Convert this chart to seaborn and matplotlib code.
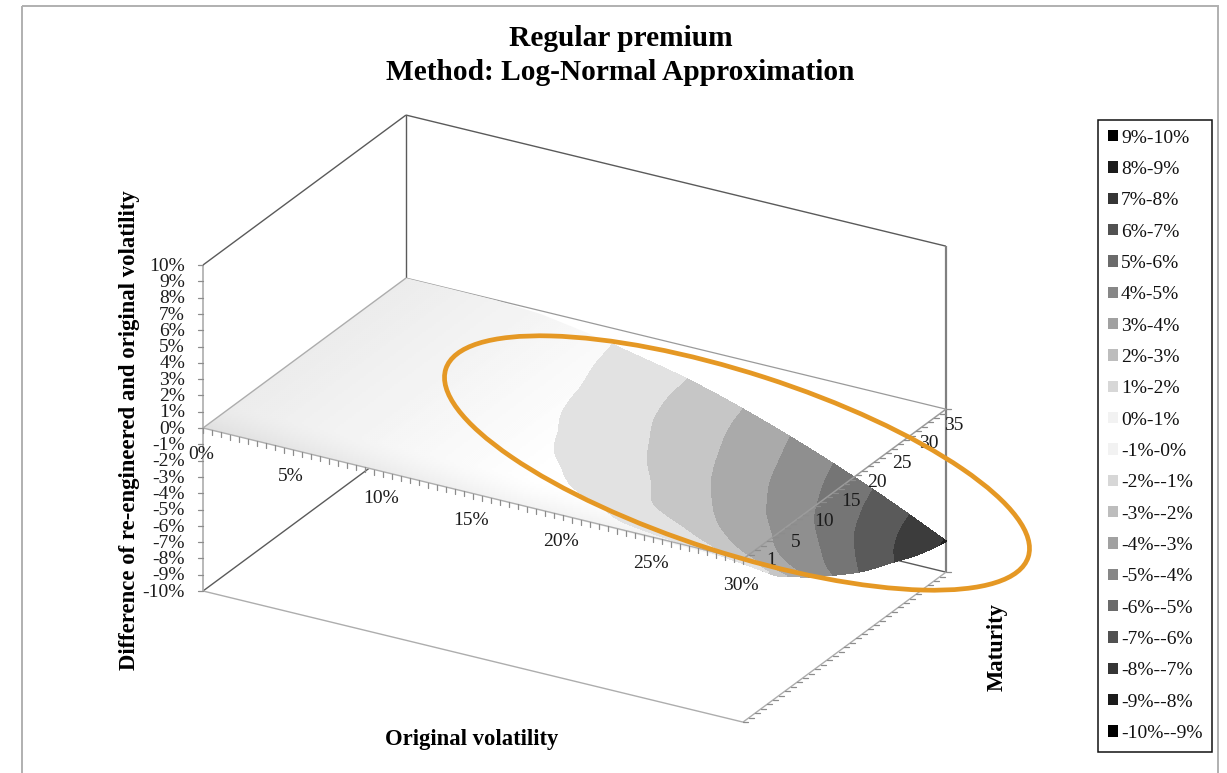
import numpy as np
import matplotlib
matplotlib.use("Agg")
import matplotlib.pyplot as plt
from matplotlib.patches import Ellipse, Patch, Polygon, Rectangle
from matplotlib.tri import Triangulation, UniformTriRefiner
import seaborn as sns

# ---- data ----
vol = np.array([0, 2.5, 5, 7.5, 10, 12.5, 15, 17.5, 20, 22.5, 25, 27.5, 30])
maturity = np.array([1, 3, 5, 7.5, 10, 15, 20, 25, 30, 35])
z_m1 = [0, 0, 0, 0, 0, -.01, -.02, -.04, -.06, -.08, -.10, -.14, -.20]
z_m3 = [0, 0, 0, -.01, -.03, -.08, -.15, -.25, -.40, -.50, -.60, -.72, -.85]
z_m5 = [0, 0, 0, -.02, -.06, -.15, -.30, -.50, -.75, -1.02, -1.30, -1.55, -1.85]
z_m7 = [0, 0, 0, -.03, -.10, -.24, -.45, -.75, -1.05, -1.45, -1.85, -2.30, -2.80]
z_m10 = [0, 0, -.01, -.04, -.15, -.35, -.60, -1.05, -1.50, -1.88, -2.40, -3.05, -3.50]
z_m15 = [0, 0, -.01, -.06, -.24, -.58, -1.02, -1.45, -1.95, -2.62, -3.35, -4.10, -4.80]
z_m20 = [0, 0, -.01, -.08, -.32, -.82, -1.25, -1.80, -2.45, -3.20, -4.00, -4.83, -5.95]
z_m25 = [0, 0, -.01, -.12, -.45, -.95, -1.55, -2.15, -2.85, -3.70, -4.60, -5.70, -6.80]
z_m30 = [0, 0, -.01, -.15, -.55, -1.12, -1.75, -2.45, -3.20, -4.10, -5.15, -6.35, -7.60]
z_m35 = [0, 0, -.02, -.20, -.65, -1.25, -1.85, -2.60, -3.50, -4.50, -5.60, -6.80, -8.10]
z_rows = [z_m1, z_m3, z_m5, z_m7, z_m10, z_m15, z_m20, z_m25, z_m30, z_m35]

title_lines = ["Regular premium", "Method: Log-Normal Approximation"]
vol_labels = ["0%", "5%", "10%", "15%", "20%", "25%", "30%"]
vol_label_at = [0, 5, 10, 15, 20, 25, 30]
mat_labels = ["1", "5", "10", "15", "20", "25", "30", "35"]
mat_label_at = [1.8, 5.9, 10.7, 15.2, 19.6, 23.8, 28.3, 32.5]
z_ticks = list(range(-10, 11))
legend_labels = ["9%-10%", "8%-9%", "7%-8%", "6%-7%", "5%-6%", "4%-5%", "3%-4%", "2%-3%", "1%-2%", "0%-1%",
                 "-1%-0%", "-2%--1%", "-3%--2%", "-4%--3%", "-5%--4%", "-6%--5%", "-7%--6%", "-8%--7%", "-9%--8%", "-10%--9%"]
surface_levels = [-9, -8, -7, -6, -5, -4, -3, -2, -1]
surface_shades = ["#202020", "#3c3c3c", "#5a5a5a", "#757575", "#8f8f8f", "#aaaaaa", "#c6c6c6", "#e2e2e2"]

# ---- style ----
sns.set_theme(style="white")
SERIF = ["Liberation Serif", "DejaVu Serif"]
plt.rcParams["font.family"] = SERIF
half = sns.blend_palette(["#f2f2f2", "#000000"], n_colors=10)
legend_colors = list(half[::-1]) + list(half)

W, H = 1227, 773
fig = plt.figure(figsize=(W / 100, H / 100), dpi=100)
ax = fig.add_axes([0, 0, 1, 1])
ax.set_axis_off()


def project(v, m, z):
    v, m, z = np.asarray(v, float), np.asarray(m, float), np.asarray(z, float)
    return 203 + 18 * v + 5.97 * (m - 1), 428 + 4.37 * v - 4.41 * (m - 1) - 16.3 * z


def edge(a, b, color, lw, zorder):
    xa, ya = project(*a)
    xb, yb = project(*b)
    ax.plot([xa, xb], [ya, yb], color=color, lw=lw, zorder=zorder, solid_capstyle="butt")


DARK, GREY = "#5a5a5a", "#adadad"
TICK = "#8c8c8c"
LABEL = "#1c1c1c"
# chart frame
ax.add_patch(Rectangle((22, 6), 1196, 800, fill=False, ec="#b0b0b0", lw=1.4, zorder=0))

# box behind the surface
edge((0, 1, 10), (0, 35, 10), DARK, 1.0, 1)
edge((0, 35, 10), (30, 35, 10), DARK, 1.0, 1)
edge((0, 35, 10), (0, 35, 0), DARK, 1.0, 1)
edge((0, 1, -10), (0, 35, -10), DARK, 1.0, 1)
edge((0, 35, -10), (30, 35, -10), DARK, 1.0, 1)
edge((30, 35, 10), (30, 35, -10), "#808080", 1.6, 1)
edge((0, 35, 0), (30, 35, 0), "#9a9a9a", 0.9, 1)
# front lines
edge((0, 1, -10), (30, 1, -10), GREY, 1.0, 1)
edge((30, 1, -10), (30, 35, -10), GREY, 1.0, 1)
edge((0, 1, 10), (0, 1, -10), GREY, 1.2, 1)
edge((0, 1, 0), (0, 35, 0), GREY, 1.0, 6)

# surface
V, M = np.meshgrid(vol, maturity)
Z = np.array(z_rows)
SX, SY = project(V, M, Z)
outline = np.vstack([
    np.column_stack([SX[0], SY[0]]),
    np.column_stack([SX[:, -1], SY[:, -1]]),
    np.column_stack([SX[-1][::-1], SY[-1][::-1]]),
    np.column_stack([SX[:, 0][::-1], SY[:, 0][::-1]]),
])
clip = Polygon(outline, closed=True, transform=ax.transData, fc="none", ec="none")
ax.add_patch(clip)
gx, gy = np.meshgrid(np.arange(190, 960, 2.0), np.arange(270, 600, 2.0))
det = 18 * 4.41 + 5.97 * 4.37
gv = (4.41 * (gx - 203) + 5.97 * (gy - 428)) / det
gw = (gx - 203 - 18 * gv) / 5.97
shade = 1 - 0.075 * np.clip(1 - gv / 17, 0, 1) - 0.05 * np.clip(1 - gw / 5, 0, 1) ** 1.5
im = ax.imshow(shade, extent=(189, 959, 599, 269), cmap="gray", vmin=0, vmax=1, aspect="auto",
               zorder=3, interpolation="bilinear")
im.set_clip_path(clip)

tri = Triangulation(V.ravel(), M.ravel())
tri_fine, z_fine = UniformTriRefiner(tri).refine_field(Z.ravel(), subdiv=3)
fx, fy = project(tri_fine.x, tri_fine.y, z_fine)
screen_tri = Triangulation(fx, fy, tri_fine.triangles)
cs = ax.tricontourf(screen_tri, z_fine, levels=surface_levels, colors=surface_shades, zorder=4)
cs.set_edgecolor("face")
cs.set_linewidth(0.4)

# edges of the plane at zero
edge((0, 1, 0), (30, 1, 0), GREY, 1.0, 6)
edge((30, 1, 0), (30, 35, 0), "#9c9c9c", 1.1, 6)

# ticks
for v in np.arange(0, 30.5, 0.5):
    x, y = project(v, 1, 0)
    ax.plot([x, x], [y, y + 5], color=TICK, lw=0.9, zorder=6)
for m in np.arange(1, 36):
    for z in (0, -10):
        x, y = project(30, m, z)
        ax.plot([x, x + 5], [y, y], color=TICK, lw=0.9, zorder=6)
for z in z_ticks:
    x, y = project(0, 1, z)
    ax.plot([x - 5, x], [y, y], color=TICK, lw=0.9, zorder=6)
    ax.text(x - 18, y + 1.2, f"{z}%", ha="right", va="center", fontsize=14, color=LABEL, zorder=7)

for v, lab in zip(vol_label_at, vol_labels):
    x, y = project(v, 1, 0)
    ax.text(x - 2, y + 26.5, lab, ha="center", va="center", fontsize=14, color=LABEL, zorder=7)
for m, lab in zip(mat_label_at, mat_labels):
    x, y = project(30, m, 0)
    ax.text(x + 23, y + 5, lab, ha="center", va="center", fontsize=14, color=LABEL, zorder=7)

# highlight
ax.add_patch(Ellipse((737, 463), 612, 180, angle=17.9, fill=False, ec="#E59824", lw=3.4, zorder=8))

# titles
ax.text(620.5, 38, title_lines[0], ha="center", va="center", fontsize=21.2, fontweight="bold", color="black")
ax.text(620.5, 73, title_lines[1], ha="center", va="center", fontsize=21.2, fontweight="bold", color="black")
ax.text(472, 740, "Original volatility", ha="center", va="center", fontsize=16.3, fontweight="bold", color="black")
ax.text(129, 430, "Difference of re-engineered and original volatility", rotation=90, ha="center", va="center",
        fontsize=16.4, fontweight="bold", color="black")
ax.text(997, 647, "Maturity", rotation=90, ha="center", va="center", fontsize=16.3, fontweight="bold", color="black")

# legend
handles = [Patch(fc=c, ec="none", label=l) for c, l in zip(legend_colors, legend_labels)]
leg = ax.legend(handles=handles, loc="upper left", bbox_to_anchor=(1098, 120), bbox_transform=ax.transData,
                borderaxespad=0, frameon=True, fancybox=False, framealpha=1, edgecolor="#111111",
                fontsize=14, labelspacing=0.737, handlelength=0.52, handleheight=0.52, handletextpad=0.16,
                borderpad=0.5, labelcolor="#111111")
leg.get_frame().set_linewidth(1.1)
leg.set_zorder(9)

ax.set_xlim(0, W)
ax.set_ylim(H, 0)
fig.savefig("out.png", dpi=100, facecolor="white")
